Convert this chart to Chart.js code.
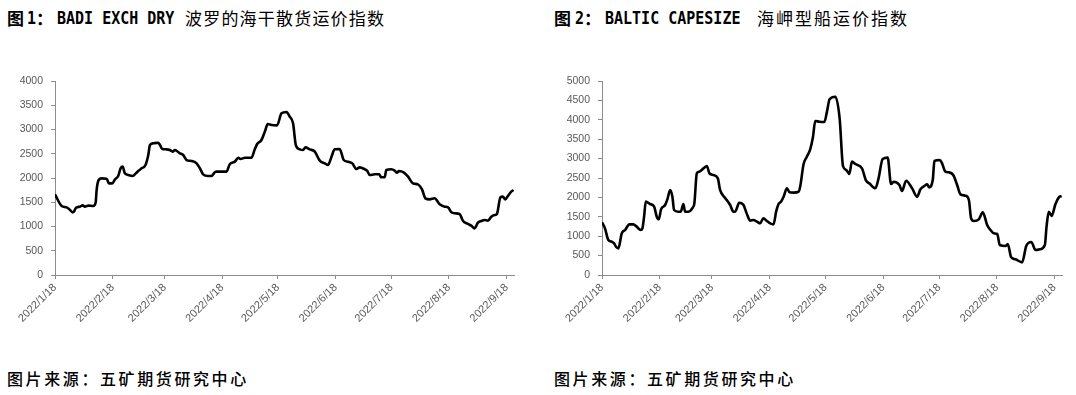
<!DOCTYPE html>
<html>
<head>
<meta charset="utf-8">
<script src="https://cdn.jsdelivr.net/npm/chart.js@4.4.0/dist/chart.umd.min.js"></script>
<style>
  html, body { margin: 0; padding: 0; background: #ffffff; }
  body { width: 1076px; height: 395px; position: relative; overflow: hidden; }
  .t { position: absolute; top: 7px; line-height: 22px; white-space: nowrap; color: #000; }
  .cjk { font-family: "Noto Sans CJK SC", sans-serif; font-size: 17px; }
  .cjkb { font-family: "Noto Sans CJK SC", sans-serif; font-size: 17px; font-weight: 700; }
  .mono { font-family: "DejaVu Sans Mono", monospace; font-weight: 700; font-size: 15px; display: inline-block; transform: scaleY(1.12); }
  .src { position: absolute; top: 367px; font-family: "Noto Sans CJK SC", sans-serif; font-size: 16px; letter-spacing: 2.6px; color: #000; white-space: nowrap; line-height: 22px; font-weight: 500; }
  canvas { position: absolute; top: 0; }
</style>
</head>
<body>
<div class="t cjkb" style="left:7px">图</div>
<div class="t" style="left:27px"><span class="mono">1</span></div>
<div class="t cjkb" style="left:36px">：</div>
<div class="t" style="left:57px"><span class="mono">BADI EXCH DRY</span></div>
<div class="t cjk" style="left:185px; letter-spacing:1.2px">波罗的海干散货运价指数</div>

<div class="t cjkb" style="left:554px">图</div>
<div class="t" style="left:575px"><span class="mono">2</span></div>
<div class="t cjkb" style="left:584px">：</div>
<div class="t" style="left:605px"><span class="mono">BALTIC CAPESIZE</span></div>
<div class="t cjk" style="left:757px; letter-spacing:2px">海岬型船运价指数</div>

<canvas id="c1" width="538" height="360" style="left:0px"></canvas>
<canvas id="c2" width="538" height="360" style="left:538px"></canvas>
<div class="src" style="left:7px">图片来源：五矿期货研究中心</div>
<div class="src" style="left:554px">图片来源：五矿期货研究中心</div>
<script>
// x positions: days since 2022/1/18
const xTickDays = [0, 31, 59, 90, 120, 151, 181, 212, 243];
const xTickLabels = ["2022/1/18", "2022/2/18", "2022/3/18", "2022/4/18", "2022/5/18", "2022/6/18", "2022/7/18", "2022/8/18", "2022/9/18"];
const xMaxDay = 247;

const bdiDays = [0, 3.6, 6.3, 8.1, 9.5, 10.2, 11.3, 13.4, 14.9, 16.1, 17.9, 20.6, 21.9, 22.4, 23.5, 25.1, 27.8, 29.0, 30.8, 32.3, 34.0, 35.3, 36.4, 37.6, 39.4, 41.8, 43.5, 44.8, 46.6, 48.7, 50.2, 51.1, 52.9, 55.5, 56.5, 57.7, 60.0, 61.8, 63.3, 64.5, 67.2, 69.0, 70.8, 73.5, 76.2, 78.0, 79.7, 82.4, 84.2, 86.0, 86.9, 92.3, 94.1, 96.8, 98.6, 99.8, 102.2, 105.7, 107.5, 108.8, 111.1, 112.9, 114.5, 116.5, 119.5, 121.9, 124.6, 126.3, 128.1, 129.6, 131.7, 133.5, 134.8, 137.1, 139.8, 142.5, 145.2, 146.9, 148.8, 150.5, 153.2, 155.4, 157.7, 160.0, 162.2, 164.0, 166.7, 167.9, 169.4, 172.0, 174.4, 175.6, 177.4, 178.3, 181.0, 182.8, 184.0, 185.1, 187.6, 190.0, 192.6, 195.3, 197.5, 199.3, 201.6, 204.3, 207.0, 209.7, 211.5, 213.3, 215.1, 217.7, 219.5, 222.2, 224.0, 225.8, 227.6, 229.4, 231.2, 233.0, 234.8, 236.6, 237.8, 239.7, 241.0, 242.3, 243.7, 245.5, 246.8];
const bdiValues = [1663, 1423, 1395, 1340, 1292, 1306, 1388, 1409, 1436, 1409, 1430, 1423, 1500, 1752, 1959, 1993, 1986, 1890, 1890, 1973, 2041, 2199, 2234, 2096, 2062, 2041, 2096, 2144, 2199, 2268, 2474, 2680, 2715, 2728, 2680, 2598, 2591, 2577, 2543, 2577, 2509, 2474, 2371, 2350, 2302, 2199, 2076, 2041, 2041, 2117, 2131, 2131, 2289, 2337, 2419, 2392, 2419, 2419, 2591, 2701, 2784, 2955, 3113, 3093, 3086, 3333, 3361, 3265, 3127, 2680, 2591, 2577, 2632, 2591, 2543, 2357, 2302, 2268, 2440, 2591, 2598, 2371, 2337, 2302, 2186, 2220, 2179, 2151, 2062, 2076, 2076, 2014, 2014, 2165, 2179, 2151, 2110, 2144, 2117, 2028, 1890, 1869, 1766, 1581, 1560, 1581, 1457, 1409, 1395, 1292, 1272, 1258, 1120, 1052, 1017, 962, 1079, 1113, 1134, 1120, 1203, 1237, 1258, 1601, 1615, 1560, 1629, 1718, 1753];

const bciDays = [0, 1.6, 3.4, 5.2, 6.5, 7.5, 8.8, 10.6, 12.4, 14.7, 16.8, 18.6, 20.8, 21.7, 22.6, 23.5, 25.8, 28.0, 29.4, 30.5, 31.7, 33.9, 35.1, 36.6, 37.8, 38.7, 41.0, 42.3, 43.7, 44.6, 46.4, 48.7, 49.6, 50.9, 52.2, 54.5, 56.3, 57.7, 59.8, 62.2, 63.4, 65.8, 67.0, 68.8, 70.6, 71.5, 73.7, 76.0, 77.8, 79.6, 81.3, 83.2, 84.9, 86.7, 88.5, 90.3, 92.1, 93.5, 94.8, 96.1, 97.5, 99.3, 100.7, 102.9, 105.6, 106.5, 108.2, 110.0, 111.8, 113.3, 114.5, 116.8, 119.4, 120.8, 122.2, 125.3, 127.6, 129.4, 131.2, 132.8, 134.2, 136.0, 139.6, 141.8, 143.5, 146.8, 148.5, 150.7, 153.4, 155.2, 156.6, 159.7, 161.1, 163.3, 166.5, 169.2, 171.0, 173.1, 174.6, 175.6, 177.6, 178.5, 181.4, 182.6, 184.4, 186.2, 188.6, 190.7, 192.5, 195.2, 197.0, 198.2, 199.6, 202.3, 204.5, 206.8, 208.6, 210.4, 212.2, 213.6, 216.7, 217.9, 219.7, 222.0, 225.6, 227.8, 230.5, 232.8, 235.1, 237.8, 238.7, 239.9, 241.4, 243.5, 245.3, 246.8];
const bciValues = [1357, 1203, 902, 859, 816, 730, 687, 1074, 1160, 1306, 1306, 1246, 1160, 1203, 1503, 1890, 1830, 1761, 1503, 1435, 1692, 1804, 1950, 2191, 2019, 1675, 1632, 1632, 1830, 1632, 1632, 1735, 1847, 2620, 2663, 2749, 2809, 2620, 2577, 2491, 2191, 2002, 1933, 1804, 1632, 1632, 1864, 1804, 1572, 1400, 1418, 1375, 1332, 1460, 1392, 1332, 1306, 1632, 1830, 1890, 2019, 2234, 2131, 2122, 2148, 2300, 2850, 3050, 3239, 3565, 3970, 3950, 3943, 4210, 4528, 4596, 4038, 2809, 2706, 2603, 2921, 2861, 2749, 2431, 2363, 2234, 2491, 2990, 3024, 2345, 2405, 2320, 2165, 2431, 2234, 2019, 2208, 2294, 2337, 2259, 2448, 2938, 2964, 2878, 2663, 2646, 2577, 2320, 2079, 2045, 1933, 1460, 1392, 1435, 1615, 1289, 1160, 1074, 1057, 773, 747, 799, 455, 404, 326, 747, 851, 644, 662, 773, 1246, 1632, 1521, 1830, 2002, 2036];

const axisColor = '#8c8c8c';
const yTickFont = { family: 'Liberation Sans, Arial, sans-serif', size: 10.5 };
const xTickFont = { family: 'Liberation Sans, Arial, sans-serif', size: 11 };
const tickColor = '#595959';

function makeChart(id, days, values, yMax, yWidth, padRight) {
  const pts = days.map((d, i) => ({ x: d, y: values[i] }));
  return new Chart(document.getElementById(id), {
    type: 'line',
    data: { datasets: [{ data: pts, borderColor: '#000000', borderWidth: 2.6, pointRadius: 0, fill: false, cubicInterpolationMode: 'monotone' }] },
    options: {
      responsive: false,
      animation: false,
      events: [],
      layout: { padding: { left: 0, right: padRight, top: 81, bottom: 25 } },
      plugins: { legend: { display: false }, tooltip: { enabled: false }, title: { display: false } },
      scales: {
        x: {
          type: 'linear', min: 0, max: xMaxDay,
          afterBuildTicks: (s) => { s.ticks = xTickDays.map(v => ({ value: v })); },
          afterFit: (s) => { s.height = 60; },
          grid: { display: true, drawOnChartArea: false, drawTicks: true, tickLength: 4, color: axisColor, lineWidth: 1 },
          border: { display: true, color: axisColor, width: 1 },
          ticks: {
            autoSkip: false, maxRotation: 45, minRotation: 45, padding: 2,
            color: tickColor, font: xTickFont,
            callback: (v) => { const i = xTickDays.indexOf(v); return i >= 0 ? xTickLabels[i] : ''; }
          }
        },
        y: {
          min: 0, max: yMax,
          afterFit: (s) => { s.width = yWidth; },
          grid: { display: true, drawOnChartArea: false, drawTicks: true, tickLength: 4, color: axisColor, lineWidth: 1 },
          border: { display: true, color: axisColor, width: 1 },
          ticks: { stepSize: 500, padding: 8, color: tickColor, font: yTickFont, callback: (v) => String(v) }
        }
      }
    }
  });
}

makeChart('c1', bdiDays, bdiValues, 4000, 55, 24);
makeChart('c2', bciDays, bciValues, 5000, 64, 14);
</script>
</body>
</html>
